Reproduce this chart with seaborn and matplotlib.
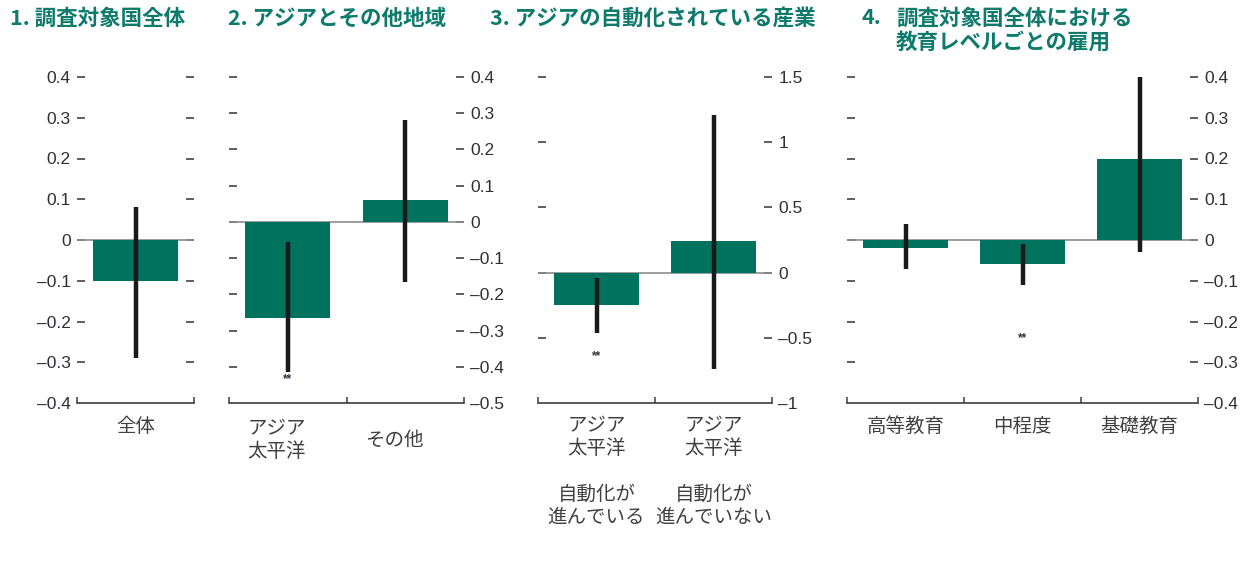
import matplotlib
matplotlib.use("Agg")
import matplotlib.pyplot as plt
import matplotlib.transforms as mtransforms
import seaborn as sns
import pandas as pd
import numpy as np
from matplotlib.ticker import FixedLocator, FixedFormatter

# ---- data -------------------------------------------------------------
titles = [
    "1. 調査対象国全体",
    "2. アジアとその他地域",
    "3. アジアの自動化されている産業",
    "4.",
]
title4_body = "調査対象国全体における\n教育レベルごとの雇用"

cats_all = ["全体"]
vals_all = [-0.10]
lo_all = [-0.29]
hi_all = [0.08]

cats_region = ["アジア\n太平洋", "その他"]
vals_region = [-0.265, 0.06]
lo_region = [-0.415, -0.165]
hi_region = [-0.055, 0.28]

cats_auto = ["アジア\n太平洋\n\n自動化が\n進んでいる", "アジア\n太平洋\n\n自動化が\n進んでいない"]
vals_auto = [-0.25, 0.24]
lo_auto = [-0.46, -0.74]
hi_auto = [-0.045, 1.21]

cats_edu = ["高等教育", "中程度", "基礎教育"]
vals_edu = [-0.02, -0.06, 0.20]
lo_edu = [-0.07, -0.11, -0.03]
hi_edu = [0.04, -0.01, 0.40]

yticks_a = [-0.4, -0.3, -0.2, -0.1, 0, 0.1, 0.2, 0.3, 0.4]
ylabels_a = ["–0.4", "–0.3", "–0.2", "–0.1", "0", "0.1", "0.2", "0.3", "0.4"]
yticks_b = [-0.5, -0.4, -0.3, -0.2, -0.1, 0, 0.1, 0.2, 0.3, 0.4]
ylabels_b = ["–0.5", "–0.4", "–0.3", "–0.2", "–0.1", "0", "0.1", "0.2", "0.3", "0.4"]
yticks_c = [-1, -0.5, 0, 0.5, 1, 1.5]
ylabels_c = ["–1", "–0.5", "0", "0.5", "1", "1.5"]

# significance markers: (bar index, y position)
sig_region = [(0, -0.435)]
sig_auto = [(0, -0.64)]
sig_edu = [(1, -0.24)]

# ---- style ------------------------------------------------------------
sns.set_theme(style="white")
plt.rcParams["font.family"] = ["Liberation Sans", "Noto Sans CJK JP", "DejaVu Sans"]

BAR = "#00735F"
TITLE = "#0E7A6C"
TXT = "#2E2E38"
CAT = "#404040"

W, H = 1246, 565
fig = plt.figure(figsize=(W / 100, H / 100), dpi=100)


def rect(x0, x1, y0=77, y1=403):
    return [x0 / W, 1 - y1 / H, (x1 - x0) / W, (y1 - y0) / H]


panels = [
    dict(rect=rect(77, 194), cats=cats_all, vals=vals_all, lo=lo_all, hi=hi_all,
         ylim=(-0.4, 0.4), yt=yticks_a, yl=ylabels_a, side="left", sig=[]),
    dict(rect=rect(229, 464), cats=cats_region, vals=vals_region, lo=lo_region, hi=hi_region,
         ylim=(-0.5, 0.4), yt=yticks_b, yl=ylabels_b, side="right", sig=sig_region),
    dict(rect=rect(538, 772), cats=cats_auto, vals=vals_auto, lo=lo_auto, hi=hi_auto,
         ylim=(-1, 1.5), yt=yticks_c, yl=ylabels_c, side="right", sig=sig_auto),
    dict(rect=rect(847, 1198), cats=cats_edu, vals=vals_edu, lo=lo_edu, hi=hi_edu,
         ylim=(-0.4, 0.4), yt=yticks_a, yl=ylabels_a, side="right", sig=sig_edu),
]

for i, p in enumerate(panels):
    ax = fig.add_axes(p["rect"])
    df = pd.DataFrame({"cat": p["cats"], "val": p["vals"]})
    sns.barplot(data=df, x="cat", y="val", color=BAR, saturation=1, width=0.72,
                errorbar=None, ax=ax, zorder=2)
    for patch in ax.patches:
        patch.set_edgecolor("none")
    n = len(p["cats"])
    xs = np.arange(n)
    ax.axhline(0, color="#8C8C8C", lw=1.2, zorder=1)
    ax.vlines(xs, p["lo"], p["hi"], color="#1A1A1A", lw=3.2, zorder=3, clip_on=False)
    for idx, yv in p["sig"]:
        ax.text(idx, yv, "**", ha="center", va="center", fontsize=8.5,
                color="#333344", fontweight="bold")

    ax.set_xlim(-0.5, n - 0.5)
    ax.set_ylim(*p["ylim"])
    ax.set_xlabel("")
    ax.set_ylabel("")
    for s in ["top", "left", "right"]:
        ax.spines[s].set_visible(False)
    ax.spines["bottom"].set_color("#3C3C3C")
    ax.spines["bottom"].set_linewidth(1.2)

    # y ticks on both sides, drawn inward as short dashes
    ax.yaxis.set_major_locator(FixedLocator(p["yt"]))
    ax.yaxis.set_major_formatter(FixedFormatter(p["yl"]))
    lab_left = p["side"] == "left"
    ax.tick_params(axis="y", which="major", left=True, right=True, direction="in",
                   length=5.8, width=1.1, color="#333333", pad=4.5,
                   labelleft=lab_left, labelright=not lab_left,
                   labelsize=12.5, labelcolor=TXT)
    for t in ax.yaxis.get_major_ticks()[:1]:
        t.tick1line.set_visible(False)
        t.tick2line.set_visible(False)

    # category boundaries as small upward ticks on the baseline
    ax.xaxis.set_minor_locator(FixedLocator(np.arange(-0.5, n, 1.0)))
    ax.tick_params(axis="x", which="minor", bottom=True, direction="in",
                   length=4, width=1.1, color="#3C3C3C")
    ax.tick_params(axis="x", which="major", bottom=True, length=0,
                   pad=27 if i == 1 else 9, labelsize=14, labelcolor=CAT)
    shift = mtransforms.ScaledTranslation(-8 / 72, 0, fig.dpi_scale_trans)
    for lab in ax.get_xticklabels():
        lab.set_family(["Noto Sans CJK JP"])
        lab.set_linespacing(1.12)
        if i == 1:
            lab.set_verticalalignment("center")
            lab.set_transform(lab.get_transform() + shift)

# ---- titles -----------------------------------------------------------
tfont = dict(fontsize=15.5, fontweight="bold", color=TITLE,
             family=["Noto Sans CJK JP", "DejaVu Sans"], va="center", ha="left")
fig.text(10 / W, 1 - 18 / H, titles[0], **tfont)
fig.text(228 / W, 1 - 18 / H, titles[1], **tfont)
fig.text(490 / W, 1 - 18 / H, titles[2], **tfont)
fig.text(862 / W, 1 - 18 / H, titles[3], **tfont)
fig.text(896 / W, 1 - 30 / H, title4_body, linespacing=1.15, **tfont)

fig.savefig("out.png", dpi=100)
